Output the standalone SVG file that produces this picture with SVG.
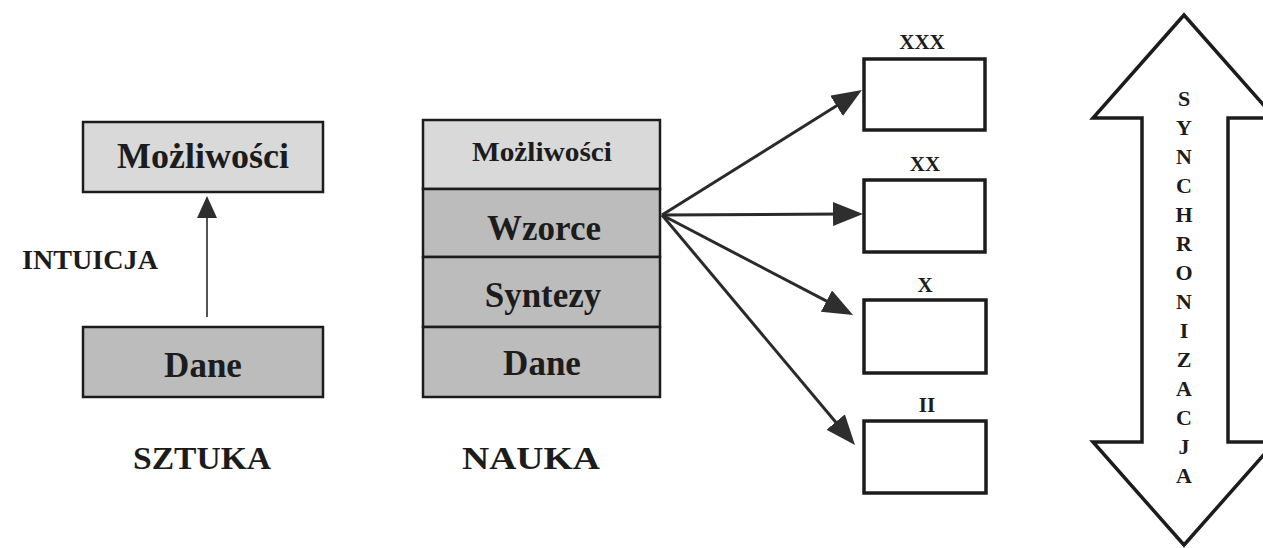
<svg xmlns="http://www.w3.org/2000/svg" width="1263" height="548" viewBox="0 0 1263 548">
<style>
text{font-family:"Liberation Serif","Times New Roman",serif;font-weight:bold;fill:#1c1c1c;text-anchor:middle}
.light{fill:#d9d9d9;stroke:#1c1c1c;stroke-width:2.5}
.dark{fill:#bcbcbc;stroke:#1c1c1c;stroke-width:2.5}
.empty{fill:#ffffff;stroke:#1c1c1c;stroke-width:3.5}
.conn{stroke:#2a2a2a;stroke-width:3;fill:none}
.v{font-size:22px}
</style>
<defs>
<marker id="ah" markerUnits="userSpaceOnUse" markerWidth="32" markerHeight="26" refX="10" refY="12" orient="auto">
<path d="M0,0 L30,12 L0,24 z" fill="#2e2e2e"/>
</marker>
</defs>
<rect width="1263" height="548" fill="#ffffff"/>

<g id="sztuka-mozliwosci">
<rect class="light" x="83" y="122" width="240" height="70"/>
<text x="203" y="168" font-size="35" textLength="172" lengthAdjust="spacingAndGlyphs">Możliwości</text>
</g>
<g id="sztuka-dane">
<rect class="dark" x="83" y="327" width="240" height="70"/>
<text x="203" y="377" font-size="35">Dane</text>
</g>
<g id="label-intuicja"><text x="90" y="269" font-size="27" textLength="136" lengthAdjust="spacingAndGlyphs">INTUICJA</text></g>
<g id="label-sztuka"><text x="202" y="469" font-size="32" textLength="138" lengthAdjust="spacingAndGlyphs">SZTUKA</text></g>

<g id="nauka-mozliwosci">
<rect class="light" x="423" y="120" width="237" height="69"/>
<text x="542" y="161" font-size="28" textLength="140" lengthAdjust="spacingAndGlyphs">Możliwości</text>
</g>
<g id="nauka-wzorce">
<rect class="dark" x="423" y="189" width="237" height="68"/>
<text x="544" y="240" font-size="35">Wzorce</text>
</g>
<g id="nauka-syntezy">
<rect class="dark" x="423" y="257" width="237" height="70"/>
<text x="543" y="307" font-size="35">Syntezy</text>
</g>
<g id="nauka-dane">
<rect class="dark" x="423" y="327" width="237" height="70"/>
<text x="542" y="375" font-size="35">Dane</text>
</g>
<g id="label-nauka"><text x="531" y="469" font-size="32" textLength="138" lengthAdjust="spacingAndGlyphs">NAUKA</text></g>

<g id="box-xxx">
<rect class="empty" x="864" y="59" width="121" height="71"/>
<text x="922" y="49" font-size="21">XXX</text>
</g>
<g id="box-xx">
<rect class="empty" x="864" y="180" width="121" height="72"/>
<text x="925" y="171" font-size="21">XX</text>
</g>
<g id="box-x">
<rect class="empty" x="864" y="300" width="122" height="73"/>
<text x="925" y="292" font-size="21">X</text>
</g>
<g id="box-ii">
<rect class="empty" x="864" y="421" width="122" height="72"/>
<text x="927" y="412" font-size="21">II</text>
</g>

<g id="synchronizacja">
<polygon points="1184,15 1275,118 1228,118 1228,442 1275,442 1184,545 1093,442 1142,442 1142,118 1093,118" fill="#ffffff" stroke="#1c1c1c" stroke-width="3.5" stroke-linejoin="miter"/>
<text class="v" x="1184" y="106">S</text>
<text class="v" x="1184" y="135">Y</text>
<text class="v" x="1184" y="164">N</text>
<text class="v" x="1184" y="193">C</text>
<text class="v" x="1184" y="222">H</text>
<text class="v" x="1184" y="251">R</text>
<text class="v" x="1184" y="280">O</text>
<text class="v" x="1184" y="309">N</text>
<text class="v" x="1184" y="338">I</text>
<text class="v" x="1184" y="367">Z</text>
<text class="v" x="1184" y="396">A</text>
<text class="v" x="1184" y="425">C</text>
<text class="v" x="1184" y="454">J</text>
<text class="v" x="1184" y="483">A</text>
</g>

<g id="connectors">
<line x1="207" y1="317" x2="207" y2="216" stroke="#2a2a2a" stroke-width="1.6"/>
<polygon points="197,218 207,196 217,218" fill="#2e2e2e"/>
<line class="conn" x1="662" y1="215" x2="845" y2="100.6" marker-end="url(#ah)"/>
<line class="conn" x1="662" y1="215" x2="843" y2="214" marker-end="url(#ah)"/>
<line class="conn" x1="662" y1="215" x2="835.3" y2="305.7" marker-end="url(#ah)"/>
<line class="conn" x1="662" y1="215" x2="842.1" y2="429.7" marker-end="url(#ah)"/>
</g>
</svg>
